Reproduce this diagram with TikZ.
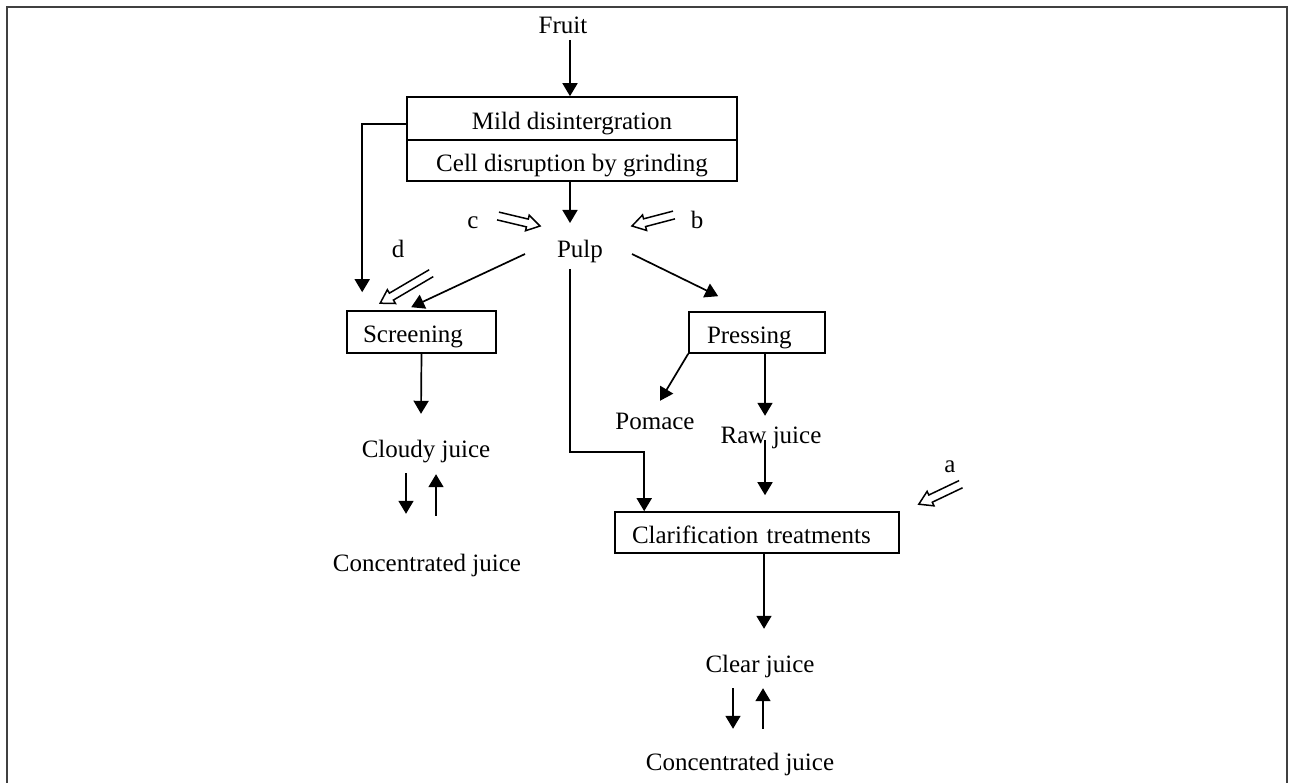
\documentclass[tikz,border=0pt]{standalone}
\usepackage{fontspec}
\setmainfont{Liberation Serif}
\usetikzlibrary{arrows.meta,calc}
\newcommand{\hollowarr}[2]{%
  \coordinate (hb) at ($(#2)!13pt!(#1)$);
  \draw[hollow] ($(#1)!4pt!90:(hb)$) -- ($(hb)!4pt!-90:(#1)$) -- ($(hb)!8pt!-90:(#1)$) -- (#2) -- ($(hb)!8pt!90:(#1)$) -- ($(hb)!4pt!90:(#1)$) -- ($(#1)!4pt!-90:(hb)$);
}
\begin{document}
\begin{tikzpicture}[x=1pt,y=-1pt,
  font=\fontsize{25pt}{30pt}\selectfont,
  lbl/.style={inner sep=0pt, text height=17pt, text depth=5pt},
  box/.style={draw, line width=1.6pt, inner ysep=0pt, text height=24pt, text depth=2pt},
  lbox/.style={box, align=left},
  arr/.style={line width=1.7pt, -{Triangle[length=13pt,width=15pt]}},
  hollow/.style={line width=1.5pt, line join=miter},
  frame/.style={line width=1.6pt, draw=black!75}]
\useasboundingbox (0,0) rectangle (1290,783);
\draw[frame] (7,790) -- (7,7) -- (1287,7) -- (1287,790);

% nodes
\node[lbl] (fruit) at (563,28) {Fruit};
\node[box, minimum width=330pt, minimum height=43pt] (mild) at (572,118.5) {Mild disintergration};
\node[box, minimum width=330pt, minimum height=41pt] (cell) at (572,160.5) {Cell disruption by grinding};
\node[lbl] (pulp) at (580,252) {Pulp};
\node[lbox, inner xsep=16pt, text width=117pt, minimum height=42pt] (screen) at (421.5,332) {Screening};
\node[lbox, inner xsep=18pt, text width=100pt, minimum height=41pt] (press) at (757,332.5) {Pressing};
\node[lbl] (cloudy) at (426,451) {Cloudy juice};
\node[lbl] (conc1) at (427,565) {Concentrated juice};
\node[lbl] (pomace) at (655,423) {Pomace};
\node[lbl] (raw) at (771,437) {Raw juice};
\node[lbox, inner xsep=17pt, text width=250pt, minimum height=41pt] (clar) at (757,532.5) {Clarification treatments};
\node[lbl] (clear) at (760,666) {Clear juice};
\node[lbl] (conc2) at (740,764) {Concentrated juice};
\node[lbl] (la) at (950,466) {a};
\node[lbl] (lb) at (697,223) {b};
\node[lbl] (lc) at (473,223) {c};
\node[lbl] (ld) at (398,252) {d};

% connectors
\draw[arr] ($(fruit)+(7,12)$) -- ($(mild.north)+(-2,0)$);
\draw[arr] ($(cell.south)+(-2,0)$) -- ($(pulp)+(-10,-29)$);
\draw[arr] ([yshift=-5.5pt]mild.west) -| ($(screen.north west)+(16,-18)$);
\draw[arr] ($(pulp)+(-55,2)$) -- ($(screen.north west)+(65,-3)$);
\draw[arr] ($(pulp)+(52,2)$) -- ($(press.north west)+(30,-15)$);
\draw[arr] ($(pulp)+(-10,17)$) |- ($(clar.north west)+(30,-59)$) -- ($(clar.north west)+(30,0)$);
\draw[arr] (screen.south) -- ($(cloudy.north)+(-5,-26)$);
\draw[arr] ($(cloudy.south)+(-20,11)$) -- ($(conc1.north)+(-21,-40)$);
\draw[arr] ($(conc1.north)+(9,-38)$) -- ($(cloudy.south)+(10,12)$);
\draw[arr] (press.south west) -- ($(pomace.north)+(5,-11)$);
\draw[arr] ($(press.south)+(8,0)$) -- ($(raw.north)+(-6,-10)$);
\draw[arr] ($(raw)+(-6,3)$) -- ($(clar.north)+(8,-16)$);
\draw[arr] ($(clar.south)+(7,0)$) -- ($(clear.north)+(4,-26)$);
\draw[arr] ($(clear.south)+(-27,11)$) -- ($(conc2.north)+(-7,-24)$);
\draw[arr] ($(conc2.north)+(23,-24)$) -- ($(clear.south)+(3,11)$);

% hollow arrows
\coordinate (ctail) at ($(pulp)+(-82,-36)$);
\coordinate (ctip) at ($(pulp)+(-40,-26)$);
\coordinate (btail) at ($(pulp)+(94,-37)$);
\coordinate (btip) at ($(pulp)+(52,-26)$);
\coordinate (dtail) at ($(screen.north west)+(85,-37)$);
\coordinate (dtip) at ($(screen.north west)+(34,-7)$);
\coordinate (atail) at ($(clar.north east)+(61,-27)$);
\coordinate (atip) at ($(clar.north east)+(19,-7)$);
\hollowarr{ctail}{ctip}
\hollowarr{btail}{btip}
\hollowarr{dtail}{dtip}
\hollowarr{atail}{atip}
\end{tikzpicture}
\end{document}
